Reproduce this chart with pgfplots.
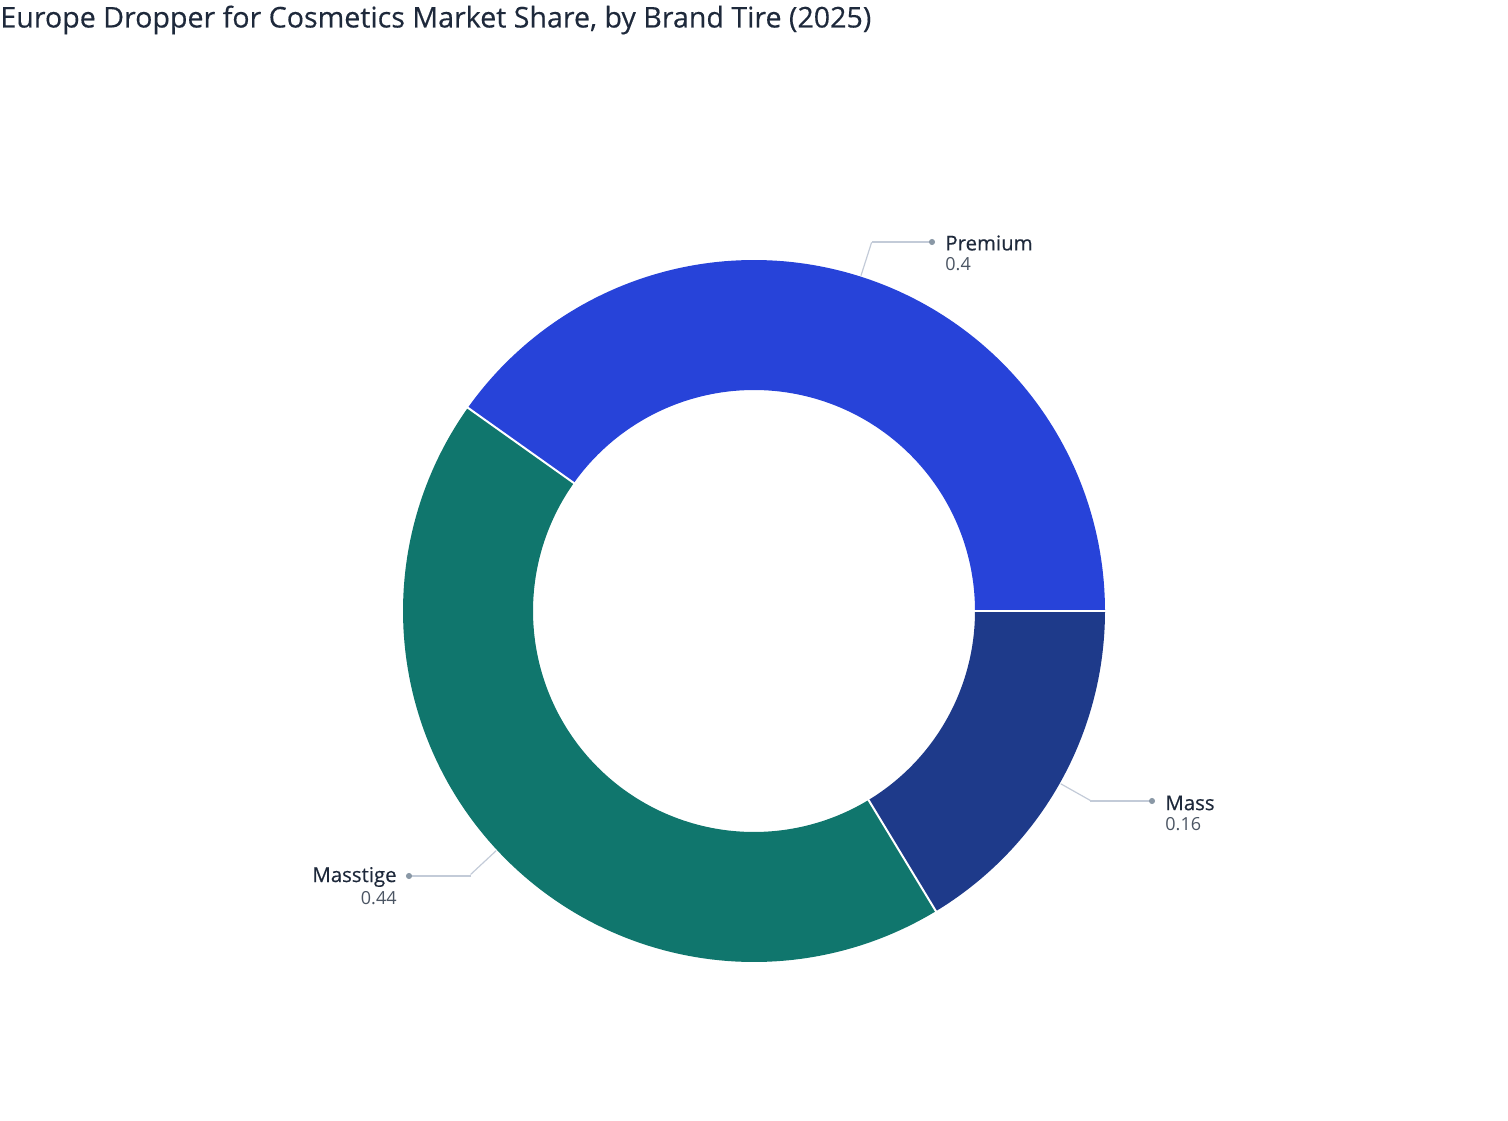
\documentclass[border=0pt]{standalone}
\usepackage{pgfplots}
\pgfplotsset{compat=1.18}
\usepackage{pgfplotstable}
\usepackage{fontspec}
\setmainfont{Open Sans}
\newfontfamily\medfont{Open Sans}[FakeBold=0.35]
\definecolor{cPremium}{HTML}{2743D9}
\definecolor{cMasstige}{HTML}{10766D}
\definecolor{cMass}{HTML}{1E3A8A}
\definecolor{cTitle}{HTML}{1E293B}
\definecolor{cVal}{HTML}{4B5563}
\definecolor{cLead}{HTML}{C3CBD8}
\definecolor{cDot}{HTML}{8A98A6}
% share = sector size as drawn in the reference; label = printed value
\pgfplotstableread{
label share shown
Premium 0.4017 0.4
Masstige 0.4350 0.44
Mass 0.1633 0.16
}\shares
\pgfplotstablegetelem{0}{share}\of\shares \let\sA\pgfplotsretval
\pgfplotstablegetelem{1}{share}\of\shares \let\sB\pgfplotsretval
\pgfplotstablegetelem{2}{share}\of\shares \let\sC\pgfplotsretval
\pgfmathsetmacro\aA{360*\sA}
\pgfmathsetmacro\aB{\aA+360*\sB}
\pgfmathsetmacro\aC{\aB+360*\sC}
\pgfmathsetmacro\mA{\aA/2}
\pgfmathsetmacro\mB{(\aA+\aB)/2}
\pgfmathsetmacro\mC{(\aB+\aC)/2}
\begin{document}
\begin{tikzpicture}
\begin{axis}[
  width=754pt, height=560pt, scale only axis,
  xmin=-754, xmax=754, ymin=-509, ymax=611,
  hide axis, clip=false,
]
\path (rel axis cs:0,0) rectangle (rel axis cs:1,1);
% ring sectors as thick arcs
\addplot[cPremium, line width=65pt, line cap=butt, line join=round, data cs=polar, domain=0:\aA, samples=120] (x, 286);
\addplot[cMasstige, line width=65pt, line cap=butt, line join=round, data cs=polar, domain=\aA:\aB, samples=120] (x, 286);
\addplot[cMass, line width=65pt, line cap=butt, line join=round, data cs=polar, domain=\aB:\aC, samples=60] (x, 286);
% separators
\addplot[white, line width=1pt, data cs=polar] coordinates {(0,219) (0,353)};
\addplot[white, line width=1pt, data cs=polar] coordinates {(\aA,219) (\aA,353)};
\addplot[white, line width=1pt, data cs=polar] coordinates {(\aB,219) (\aB,353)};
% leaders
\addplot[cLead, line width=0.6pt, data cs=polar] coordinates {(\mA,352) (\mA,387)};
\addplot[cLead, line width=0.6pt] coordinates {(118,369) (178,369)};
\addplot[cDot, only marks, mark=*, mark size=1.3pt] coordinates {(178,369)};
\addplot[cLead, line width=0.6pt, data cs=polar] coordinates {(\mC,352) (\mC,387)};
\addplot[cLead, line width=0.6pt] coordinates {(336,-190) (398,-190)};
\addplot[cDot, only marks, mark=*, mark size=1.3pt] coordinates {(398,-190)};
\addplot[cLead, line width=0.6pt, data cs=polar] coordinates {(\mB,352) (\mB,387)};
\addplot[cLead, line width=0.6pt] coordinates {(-283,-265) (-345,-265)};
\addplot[cDot, only marks, mark=*, mark size=1.3pt] coordinates {(-345,-265)};
% labels
\node[anchor=west, inner sep=0pt, font=\medfont\fontsize{10.2pt}{12pt}\selectfont, text=cTitle] at (axis cs:191,368) {Premium};
\node[anchor=west, inner sep=0pt, font=\fontsize{9pt}{11pt}\selectfont, text=cVal] at (axis cs:191,347) {0.4};
\node[anchor=west, inner sep=0pt, font=\medfont\fontsize{10.2pt}{12pt}\selectfont, text=cTitle] at (axis cs:411,-192) {Mass};
\node[anchor=west, inner sep=0pt, font=\fontsize{9pt}{11pt}\selectfont, text=cVal] at (axis cs:411,-213) {0.16};
\node[anchor=east, inner sep=0pt, font=\medfont\fontsize{10.2pt}{12pt}\selectfont, text=cTitle] at (axis cs:-357,-266) {Masstige};
\node[anchor=east, inner sep=0pt, font=\fontsize{9pt}{11pt}\selectfont, text=cVal] at (axis cs:-357,-287) {0.44};
% title
\node[anchor=west, inner sep=0pt, font=\medfont\fontsize{14.3pt}{16pt}\selectfont, text=cTitle] at (axis cs:-754,591) {Europe Dropper for Cosmetics Market Share, by Brand Tire (2025)};
\end{axis}
\end{tikzpicture}
\end{document}
